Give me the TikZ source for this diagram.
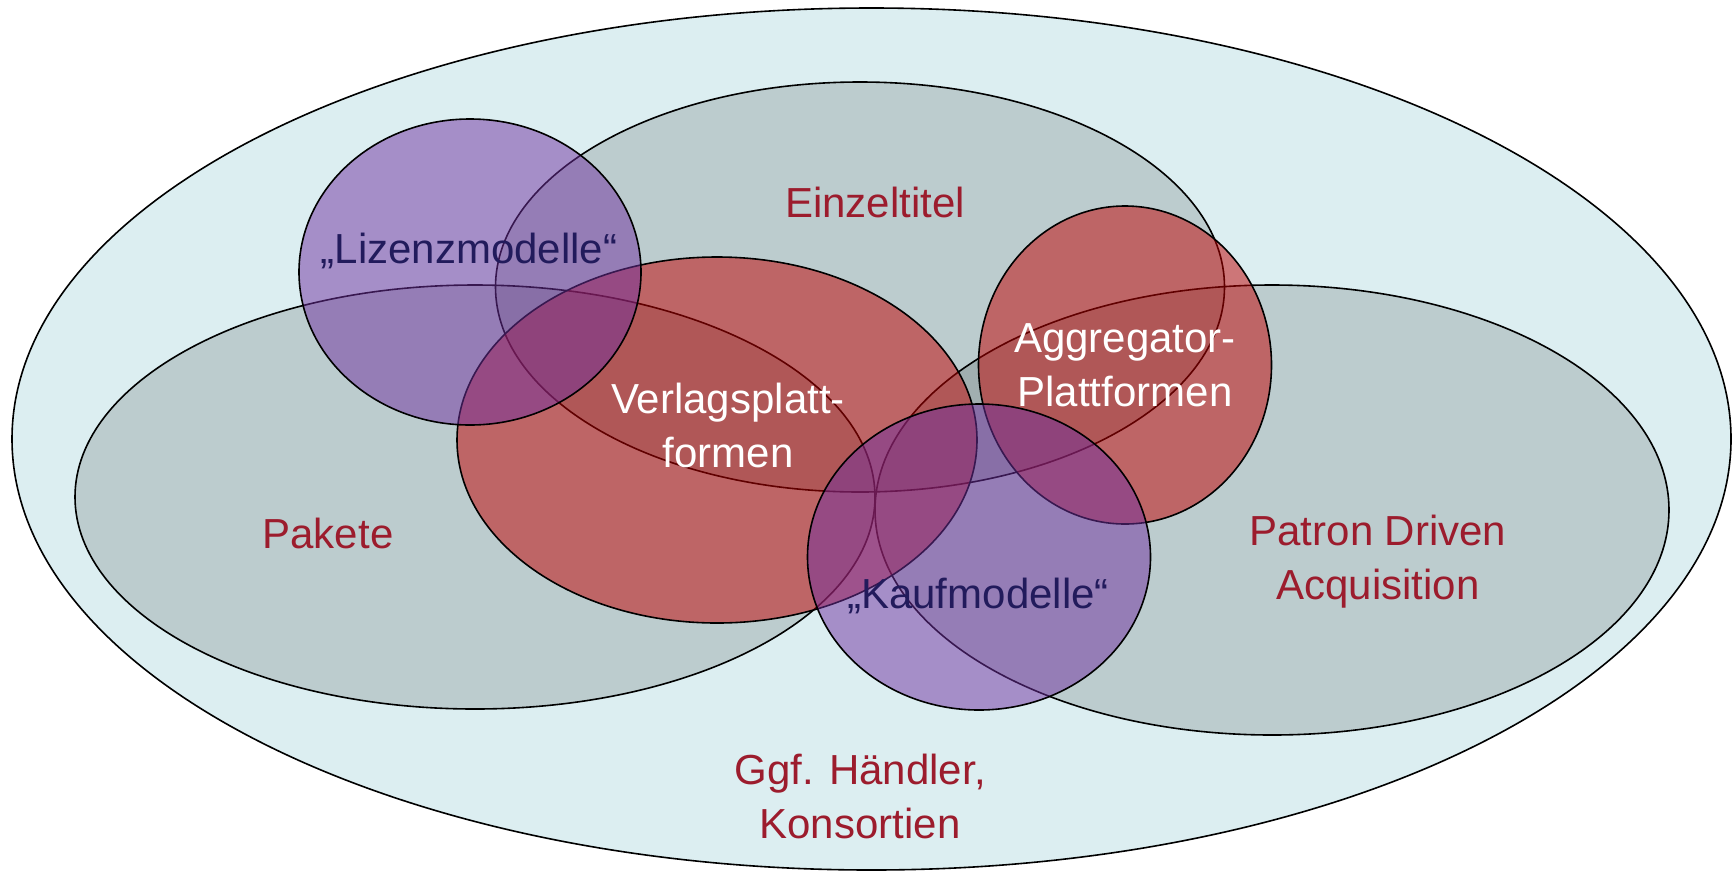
\documentclass[tikz,border=0pt]{standalone}
\usepackage{fontspec}
\setmainfont{Liberation Sans}
\definecolor{bgcyan}{HTML}{DCEEF1}
\definecolor{pptred}{HTML}{C00000}
\definecolor{pptpurple}{HTML}{7030A0}
\definecolor{labelred}{HTML}{9C1C2D}
\definecolor{labelnavy}{HTML}{221B5C}
\tikzset{
  outline/.style={draw=black, line width=1.6pt},
  grayset/.style={outline, fill=black, fill opacity=0.14},
  redset/.style={outline, fill=pptred, fill opacity=0.5},
  purpleset/.style={outline, fill=pptpurple, fill opacity=0.5},
  lbl/.style={inner sep=0pt, align=center, font=\fontsize{42}{54}\selectfont, anchor=base},
  redlbl/.style={lbl, text=labelred},
  navylbl/.style={lbl, text=labelnavy},
  whitelbl/.style={lbl, text=white}
}
\begin{document}
\begin{tikzpicture}[x=1pt, y=-1pt]
\useasboundingbox (0,0) rectangle (1735,871);
% outer set
\draw[outline, fill=bgcyan] (871.5,439) ellipse [x radius=859.5pt, y radius=431pt];
% gray sets
\draw[grayset] (860,287) ellipse [x radius=364.5pt, y radius=205pt];
\draw[grayset] (475,497) ellipse [x radius=400pt, y radius=212pt];
\draw[grayset] (1272,510) ellipse [x radius=397pt, y radius=225pt];
% platforms
\draw[redset] (717,440) ellipse [x radius=260pt, y radius=183pt];
\draw[redset] (1125,365) ellipse [x radius=146.5pt, y radius=159pt];
% models
\draw[purpleset] (470,272) ellipse [x radius=171pt, y radius=153pt];
\draw[purpleset] (979,557) ellipse [x radius=171.5pt, y radius=153pt];
% labels
\node[redlbl] (einzel) at (875,217) {Einzeltitel};
\node[navylbl] (lizenz) at (469,263) {„Lizenzmodelle“};
\node[whitelbl] (verlag) at (728,467) {Verlagsplatt-\\formen};
\node[whitelbl] (aggr) at (1125,406) {Aggregator-\\Plattformen};
\node[redlbl] (pakete) at (328,548) {Pakete};
\node[navylbl] (kauf) at (978,608) {„Kaufmodelle“};
\node[redlbl] (pda) at (1378,599) {Patron Driven\\Acquisition};
\node[redlbl] (haendler) at (860,838) {Ggf. Händler,\\Konsortien};
\end{tikzpicture}
\end{document}
